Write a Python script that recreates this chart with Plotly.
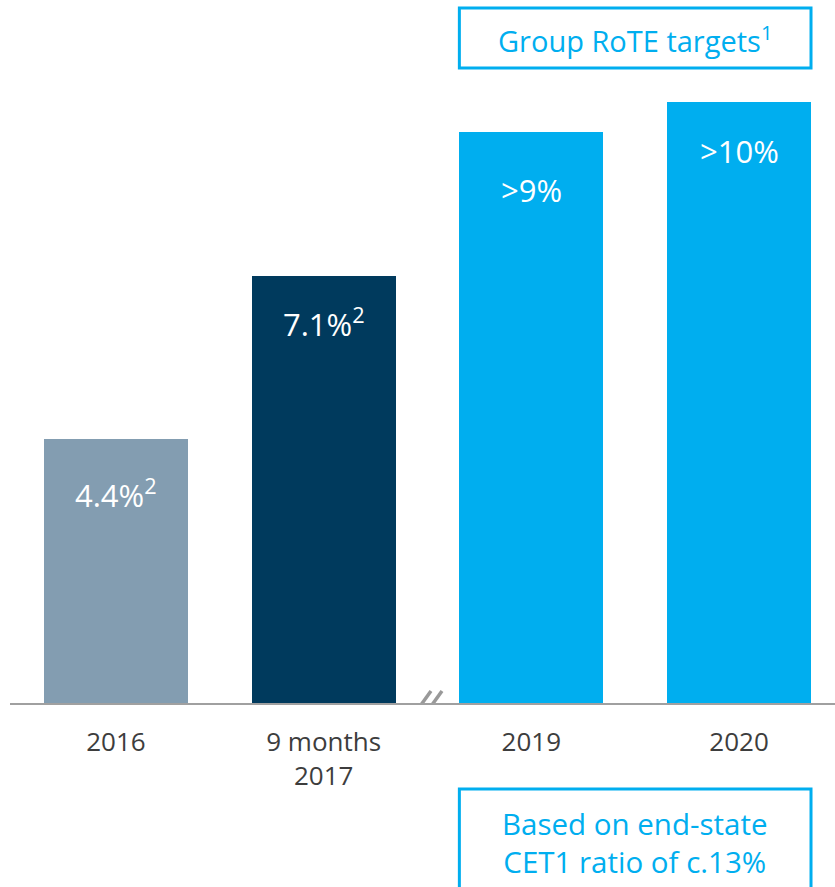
import plotly.graph_objects as go

categories = ["2016", "9 months<br>2017", "2019", "2020"]
values = [4.4, 7.1, 9.5, 10.0]
bar_labels = ["4.4%<sup>2</sup>", "7.1%<sup>2</sup>", "&gt;9%", "&gt;10%"]
bar_colors = ["#839db1", "#003a5d", "#00aeef", "#00aeef"]
label_offsets = [55, 46, 58, 49]
top_box_text = "Group RoTE targets<sup>1</sup>"
bottom_box_text = "Based on end-state<br>CET1 ratio of c.13%"

FONT = "Open Sans"
CYAN = "#00aeef"
BAR_W = 0.693

fig = go.Figure()
fig.add_trace(go.Bar(
    x=list(range(len(categories))), y=values, marker=dict(color=bar_colors, line=dict(width=0)),
    width=BAR_W, hoverinfo="skip", showlegend=False,
))

for i, (v, t, off) in enumerate(zip(values, bar_labels, label_offsets)):
    fig.add_annotation(x=i, y=v, text=t, showarrow=False, yanchor="middle", yshift=-off,
                       font=dict(family=FONT, size=31, color="white"))

# boxes
fig.add_shape(type="rect", xref="x", yref="paper", x0=2 - BAR_W / 2, x1=3 + BAR_W / 2,
              y0=1 - 68 / 703, y1=1 - 8 / 703, line=dict(color=CYAN, width=3), fillcolor="white")
fig.add_annotation(xref="x", yref="paper", x=2.5, y=1 - 39 / 703, text=top_box_text, showarrow=False,
                   font=dict(family=FONT, size=29, color=CYAN), yanchor="middle")
fig.add_shape(type="rect", xref="x", yref="paper", x0=2 - BAR_W / 2, x1=3 + BAR_W / 2,
              y0=1 - 900 / 703, y1=1 - 789 / 703, line=dict(color=CYAN, width=3), fillcolor="white")
fig.add_annotation(xref="x", yref="paper", x=2.5, y=1 - 842 / 703, text=bottom_box_text, showarrow=False,
                   font=dict(family=FONT, size=29.5, color=CYAN), yanchor="middle")

# axis break marks
for dx in (-5.5, 5.5):
    fig.add_shape(type="line", xref="x", yref="y", xsizemode="pixel", ysizemode="pixel",
                  xanchor=1.5, yanchor=0, x0=dx - 9, y0=-13, x1=dx + 9, y1=12,
                  line=dict(color="#999999", width=3.5))

fig.update_layout(
    width=835, height=887,
    margin=dict(l=10, r=0, t=0, b=184),
    paper_bgcolor="white", plot_bgcolor="white",
    bargap=0,
    xaxis=dict(range=[-0.51, 3.462], tickmode="array", tickvals=list(range(len(categories))),
               ticktext=categories, showgrid=False, zeroline=False, showline=True,
               linecolor="#a0a0a0", linewidth=2, ticks="", ticklabelstandoff=15,
               tickfont=dict(family=FONT, size=26, color="#3d3d3d"), fixedrange=True),
    yaxis=dict(range=[0, 703 / 60.1], visible=False, fixedrange=True),
)

fig.write_html("out.html", config={"displayModeBar": False},
               post_script="document.body.style.margin='0';")
